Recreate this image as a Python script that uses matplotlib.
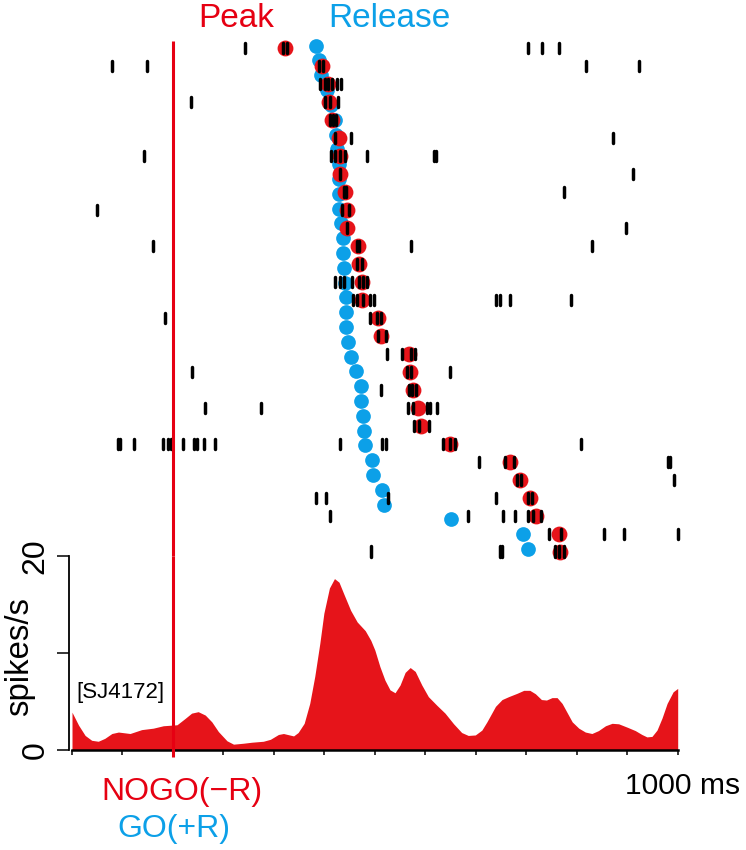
import numpy as np
from matplotlib import pyplot as plt

plt.rcParams['font.family'] = ['Liberation Sans', 'DejaVu Sans']

W, H = 746, 850
RED = '#e6141a'
LINE_RED = '#e60012'
BLUE = '#0ca0e8'

# spike times (ms) for each NOGO trial, top row first
spikes = [
    [143, 219, 225, 704, 732, 765],
    [-120, -51, 290, 298, 819, 924],
    [291, 301, 308, 315, 326, 332],
    [36, 301, 311, 327],
    [311, 318, 323],
    [322, 352, 871],
    [-57, 313, 322, 331, 341, 385, 517, 521],
    [330, 911],
    [338, 342, 774],
    [-151, 334, 349],
    [344, 897],
    [-40, 364, 369, 471, 830],
    [364, 375],
    [322, 330, 338, 354, 369, 377, 385],
    [356, 364, 377, 390, 398, 640, 647, 668, 789],
    [-16, 390, 404, 412],
    [406, 422],
    [425, 454, 471, 479],
    [38, 463, 472, 549],
    [412, 468, 474, 482],
    [63, 175, 466, 475, 503, 509, 523],
    [478, 488, 508],
    [-108, -104, -77, -19, -9, -4, 20, 42, 47, 61, 83, 330, 414, 422, 535, 548, 558, 808],
    [606, 658, 675, 980, 984],
    [682, 690, 992],
    [283, 303, 426, 640, 704, 711],
    [311, 585, 653, 678, 704, 714, 729],
    [745, 768, 854, 894, 1000],
    [392, 648, 652, 757, 765, 774],
]

# peak time of each NOGO trial
peak_ms = [222, 295, 308, 309, 316, 329, 330, 330, 341, 344, 345, 366, 369, 374, 375,
           406, 412, 468, 469, 476, 486, 491, 549, 667, 687, 708, 719, 765, 766]

# release time of each GO trial
release_ms = [283, 289, 293, 305, 313, 321, 324, 326, 328, 328, 328, 329, 333, 336, 336,
              338, 341, 342, 343, 343, 347, 352, 363, 373, 373, 376, 378, 381, 395, 396,
              414, 418, 550, 694, 704]

# spike density
psth_t = [-200, -187, -174, -161, -148, -135, -121, -108, -85, -62, -39, -19, 8, 24, 37, 50,
          64, 77, 90, 107, 120, 140, 156, 179, 193, 209, 219, 239, 248, 260, 271, 281,
          291, 299, 310, 320, 329, 338, 352, 365, 381, 392, 400, 410, 420, 430, 440, 450,
          460, 470, 480, 493, 506, 523, 539, 556, 572, 585, 599, 612, 622, 639, 652, 665,
          682, 695, 707, 718, 730, 740, 751, 761, 771, 781, 791, 804, 817, 830, 843, 857,
          870, 883, 900, 916, 929, 939, 949, 959, 969, 979, 991, 1000]
psth_rate = [3.9, 2.56, 1.5, 1.0, 0.9, 1.2, 1.7, 1.85, 1.7, 2.1, 2.25, 2.5, 2.6, 3.25, 3.8, 3.95,
             3.6, 2.9, 1.9, 0.95, 0.6, 0.7, 0.8, 0.9, 1.1, 1.6, 1.7, 1.45, 1.8, 2.75, 4.8, 7.6,
             11.0, 14.1, 16.7, 17.67, 17.3, 16.15, 14.4, 13.2, 12.3, 11.3, 10.3, 8.6, 7.2, 6.2, 5.9, 6.7,
             8.0, 8.5, 8.1, 6.7, 5.5, 4.6, 3.8, 2.7, 1.8, 1.5, 1.55, 2.05, 2.9, 4.5, 5.2, 5.5,
             5.85, 6.15, 6.15, 5.8, 5.2, 5.15, 5.4, 5.4, 4.8, 3.85, 2.9, 2.25, 1.85, 1.7, 2.0, 2.5,
             2.75, 2.7, 2.35, 2.0, 1.6, 1.35, 1.4, 2.05, 3.3, 4.8, 6.0, 6.35]

x_ticks = np.arange(-200, 1001, 100)
y_ticks = [0, 10, 20]
y_ticklabels = ['0', '', '20']


def box(x0, y0, x1, y1):
    # pixel box (y from the top) to figure fraction
    return [x0 / W, 1 - y1 / H, (x1 - x0) / W, (y1 - y0) / H]


fig = plt.figure(figsize=(W / 100, H / 100), dpi=100)

# raster, one row = 17.97 px, first row centred 7.3 px below the axes top
ax = fig.add_axes(box(72, 41, 677.7, 556))
ax.set_xlim(-200, 1000)
ax.set_ylim(28.25, -0.406)
ax.axis('off')

rows = np.arange(len(spikes))
# GO trials are more numerous, so they are packed tighter in the same height
go_rows = -0.145 + np.arange(len(release_ms)) * 0.8236
ax.scatter(release_ms, go_rows, s=112, color=BLUE, linewidths=0, zorder=2, clip_on=False)
ax.scatter(peak_ms, rows, s=130, color=RED, linewidths=0, zorder=3, clip_on=False)
for row, times in zip(rows, spikes):
    ax.vlines(times, row - 0.28, row + 0.28, color='k', lw=2.5, capstyle='round', zorder=4, clip_on=False)
ax.plot([0, 0], [-0.406, 28.25], color=LINE_RED, lw=2.2, zorder=5, solid_capstyle='butt', clip_on=False)

# histogram
ax2 = fig.add_axes(box(72, 556, 677.7, 750))
ax2.set_xlim(-200, 1000)
ax2.set_ylim(0, 20)
ax2.patch.set_visible(False)
ax2.fill_between(psth_t, psth_rate, 0, color=RED, linewidth=0, zorder=2)
ax2.plot([0, 0], [-0.75, 20], color=LINE_RED, lw=2.2, zorder=5, solid_capstyle='butt', clip_on=False)

for s in ['top', 'right']:
    ax2.spines[s].set_visible(False)
ax2.spines['left'].set_position(('outward', 2.5))
ax2.spines['left'].set_linewidth(1.3)
ax2.spines['bottom'].set_linewidth(1.8)
ax2.spines['bottom'].set_zorder(4)

ax2.set_xticks(x_ticks)
ax2.set_xticklabels([])
ax2.tick_params(axis='x', length=3.5, width=1.1, direction='out')
ax2.set_yticks(y_ticks)
ax2.set_yticklabels(y_ticklabels, rotation=90, va='center', fontsize=23)
ax2.tick_params(axis='y', length=8.5, width=1.1, direction='out', pad=4.5)


def label(px, py, txt, color='k', size=23, ha='center'):
    fig.text(px / W, 1 - py / H, txt, color=color, fontsize=size, ha=ha, va='baseline')


fig.text(28 / W, 1 - 657 / H, 'spikes/s', fontsize=23.7, rotation=90, rotation_mode='anchor',
         ha='center', va='baseline')
label(236, 27, 'Peak', LINE_RED, 24)
label(389, 27, 'Release', BLUE, 24)
label(182, 800, 'NOGO(\u2212R)', LINE_RED, 23)
label(174, 837, 'GO(+R)', BLUE, 23)
label(683, 794, '1000 ms', 'k', 21.6)
label(76, 698, '[SJ4172]', 'k', 16, ha='left')

fig.savefig('out.png', dpi=100)
